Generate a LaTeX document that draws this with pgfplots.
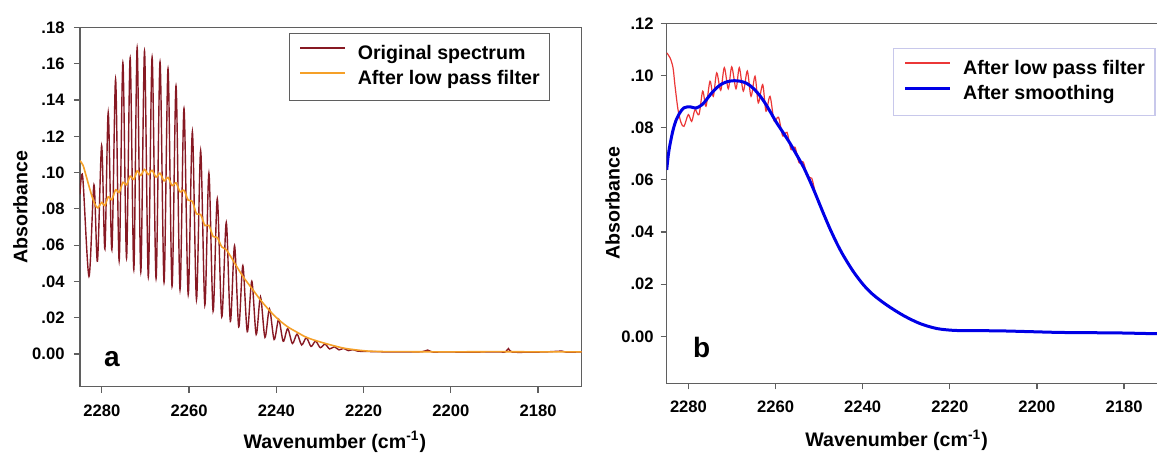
\documentclass[border=0pt]{standalone}
\usepackage{pgfplots}
\pgfplotsset{compat=1.18}
\usepackage{fontspec}
\setmainfont{Liberation Sans}
\definecolor{axisgray}{RGB}{95,95,95}
\definecolor{specred}{RGB}{135,25,35}
\definecolor{lporange}{RGB}{245,160,40}
\definecolor{lpred}{RGB}{235,55,55}
\definecolor{smblue}{RGB}{0,0,230}
\definecolor{legbgray}{RGB}{200,200,235}
\pgfplotsset{
  spec/.style={
    scale only axis,
    x dir=reverse, xmin=2170, xmax=2285, ymin=-0.018,
    axis line style={draw=axisgray, line width=0.7pt},
    every tick/.style={draw=axisgray, line width=0.6pt},
    tick align=outside, major tick length=3pt,
    xtick pos=left, ytick pos=left,
    xtick={2180,2200,2220,2240,2260,2280},
    xticklabels={2180,2200,2220,2240,2260,2280},
    /pgf/number format/assume math mode=true,
    tick label style={font=\fontsize{8.3}{10}\selectfont\bfseries},
    xticklabel style={yshift=-2.5pt},
    legend cell align=left,
    legend image code/.code={\draw[##1] (0pt,3.3pt) -- (22.3pt,3.3pt); \path (28.3pt,0pt);},
    legend style={anchor=north west, line width=0.6pt, inner xsep=5pt, inner ysep=6pt,
      font=\fontsize{9.8}{11}\selectfont\bfseries, row sep=3.5pt,
      nodes={inner sep=0pt, text height=7pt, text depth=2pt}},
  }
}
\begin{document}
\begin{tikzpicture}
\path[use as bounding box, clip] (0,0) rectangle (578.5pt,226pt);
% ---------------- panel a ----------------
\begin{axis}[spec,
  at={(40pt,32.65pt)}, anchor=south west,
  width=250.85pt, height=179.7pt, ymax=0.18,
  ytick={0,0.02,0.04,0.06,0.08,0.10,0.12,0.14,0.16,0.18},
  yticklabels={0.00,.02,.04,.06,.08,.10,.12,.14,.16,.18},
  yticklabel style={xshift=-1.2pt},
  xlabel={Wavenumber (cm\textsuperscript{-1})},
  ylabel={Absorbance},
  every axis x label/.style={at={([yshift=-30.7pt]axis description cs:0.508,0)}, anchor=base, font=\fontsize{9.8}{11}\selectfont\bfseries},
  every axis y label/.style={at={([xshift=-29.75pt]axis description cs:0,0.5)}, anchor=center, rotate=90, font=\fontsize{9.8}{11}\selectfont\bfseries},
  legend style={at={(axis description cs:0.4166,0.9841)}, draw=axisgray},
]
\addplot[specred, line width=0.7pt, smooth] coordinates {
(2285.00,0.0880) (2284.38,0.0977) (2282.94,0.0428) (2281.80,0.0932) (2281.00,0.0511)
(2280.04,0.1148) (2279.29,0.0579) (2278.53,0.1331) (2277.69,0.0575) (2276.84,0.1514)
(2276.02,0.0514) (2275.17,0.1605) (2274.33,0.0529) (2273.50,0.1631) (2272.66,0.0465)
(2271.90,0.1688) (2271.06,0.0452) (2270.21,0.1669) (2269.34,0.0425) (2268.47,0.1636)
(2267.56,0.0416) (2266.65,0.1609) (2265.73,0.0395) (2264.82,0.1572) (2263.90,0.0373)
(2262.99,0.1477) (2262.07,0.0355) (2261.16,0.1353) (2260.20,0.0328) (2259.24,0.1224)
(2258.30,0.0300) (2257.34,0.1120) (2256.38,0.0270) (2255.45,0.0996) (2254.49,0.0236)
(2253.53,0.0855) (2252.50,0.0205) (2251.47,0.0725) (2250.53,0.0181) (2249.57,0.0597)
(2248.61,0.0150) (2247.67,0.0487) (2246.65,0.0123) (2245.62,0.0401) (2244.61,0.0108)
(2243.63,0.0315) (2242.60,0.0092) (2241.57,0.0249) (2240.50,0.0080) (2239.45,0.0191)
(2238.42,0.0070) (2237.39,0.0140) (2236.31,0.0058) (2235.24,0.0110) (2234.19,0.0050)
(2233.11,0.0090) (2232.04,0.0042) (2230.99,0.0071) (2229.91,0.0035) (2228.84,0.0055)
(2227.79,0.0028) (2226.71,0.0040) (2225.64,0.0023) (2224.59,0.0031) (2223.51,0.0019)
(2222.44,0.0024) (2221.34,0.0016) (2219.0,0.0014) (2215.0,0.0012) (2210.0,0.0012)
(2206.5,0.0013) (2205.3,0.0022) (2204.2,0.0011) (2201.0,0.0012) (2197.0,0.0010)
(2193.0,0.0011) (2189.0,0.0012) (2187.5,0.0011) (2186.8,0.0030) (2186.0,0.0011)
(2182.0,0.0010) (2178.0,0.0012) (2174.5,0.0016) (2173.5,0.0010) (2170.0,0.0012)
};
\addlegendentry{Original spectrum}
\addplot[lporange, line width=0.8pt, smooth] coordinates {
(2285.00,0.1065) (2284.31,0.1040) (2283.63,0.0985) (2282.94,0.0925) (2282.26,0.0870)
(2281.57,0.0825) (2280.89,0.0805) (2280.04,0.0835) (2279.29,0.0818) (2278.53,0.0866)
(2277.69,0.0850) (2276.84,0.0905) (2276.02,0.0890) (2275.17,0.0946) (2274.33,0.0932)
(2273.50,0.0980) (2272.66,0.0962) (2271.90,0.1009) (2271.06,0.0984) (2270.21,0.1017)
(2269.34,0.0989) (2268.47,0.1012) (2267.56,0.0975) (2266.65,0.0996) (2265.73,0.0954)
(2264.82,0.0973) (2263.90,0.0928) (2262.99,0.0943) (2262.07,0.0894) (2261.16,0.0902)
(2260.20,0.0848) (2259.24,0.0841) (2258.30,0.0772) (2257.34,0.0769) (2256.38,0.0708)
(2255.45,0.0709) (2254.49,0.0648) (2253.53,0.0642) (2252.50,0.0590) (2251.47,0.0575)
(2249.57,0.0502) (2247.67,0.0428) (2245.62,0.0362) (2243.63,0.0298) (2241.57,0.0240)
(2239.45,0.0189) (2237.39,0.0150) (2235.24,0.0120) (2232.89,0.0090) (2229.00,0.0060)
(2224.43,0.0032) (2219.86,0.0018) (2216.43,0.0014) (2210.0,0.0013) (2200.0,0.0012)
(2190.0,0.0013) (2180.0,0.0012) (2170.0,0.0012)
};
\addlegendentry{After low pass filter}
\node[font=\fontsize{14}{16}\selectfont\bfseries, anchor=base] at (axis cs:2277.7,-0.0066) {a};
\end{axis}
% ---------------- panel b ----------------
\begin{axis}[spec,
  at={(333.35pt,34.35pt)}, anchor=south west,
  width=250.45pt, height=180pt, ymax=0.12,
  ytick={0,0.02,0.04,0.06,0.08,0.10,0.12},
  yticklabels={0.00,.02,.04,.06,.08,.10,.12},
  xlabel={Wavenumber (cm\textsuperscript{-1})},
  ylabel={Absorbance},
  every axis x label/.style={at={([yshift=-31.7pt]axis description cs:0.459,0)}, anchor=base, font=\fontsize{9.8}{11}\selectfont\bfseries},
  every axis y label/.style={at={([xshift=-27.1pt]axis description cs:0,0.5)}, anchor=center, rotate=90, font=\fontsize{9.8}{11}\selectfont\bfseries},
  legend style={at={(axis description cs:0.4518,0.9314)}, draw=legbgray},
]
\addplot[lpred, line width=0.6pt, smooth] coordinates {
(2285.00,0.1087) (2284.24,0.1068) (2283.55,0.1030) (2283.09,0.0960) (2282.41,0.0870)
(2281.72,0.0820) (2281.03,0.0805) (2280.04,0.0850) (2279.26,0.0824) (2278.50,0.0869)
(2277.58,0.0850) (2276.73,0.0940) (2275.98,0.0882) (2275.06,0.0978) (2274.30,0.0920)
(2273.52,0.1010) (2272.60,0.0943) (2271.77,0.1030) (2270.86,0.0949) (2270.07,0.1033)
(2269.09,0.0949) (2268.33,0.1030) (2267.41,0.0940) (2266.49,0.1017) (2265.64,0.0920)
(2264.72,0.0997) (2263.97,0.0895) (2262.96,0.0965) (2262.20,0.0863) (2261.28,0.0920)
(2260.32,0.0825) (2259.33,0.0840) (2258.36,0.0768) (2257.38,0.0782) (2256.46,0.0716)
(2255.54,0.0725) (2254.62,0.0666) (2253.63,0.0668) (2252.67,0.0612) (2251.70,0.0606)
(2250.76,0.0545) (2249.04,0.0472) (2247.50,0.0412) (2245.89,0.0355) (2244.45,0.0310)
(2242.22,0.0250) (2239.86,0.0198) (2237.63,0.0160) (2234.48,0.0120) (2230.67,0.0080)
(2226.84,0.0049) (2223.00,0.0030) (2219.19,0.0023) (2215.36,0.0022) (2208.47,0.0021)
(2201.58,0.0018) (2194.69,0.0015) (2187.81,0.0014) (2180.92,0.0013) (2172.42,0.0010)
(2170.00,0.0010)
};
\addlegendentry{After low pass filter}
\addplot[smblue, line width=1.5pt, smooth] coordinates {
(2285.00,0.0638) (2284.59,0.0700) (2284.13,0.0745) (2283.55,0.0790) (2282.86,0.0828)
(2281.94,0.0858) (2281.03,0.0876) (2279.65,0.0880) (2278.27,0.0875) (2276.89,0.0888)
(2275.98,0.0905) (2274.83,0.0930) (2273.52,0.0953) (2272.30,0.0968) (2270.92,0.0977)
(2269.54,0.0980) (2268.16,0.0978) (2266.78,0.0971) (2265.40,0.0955) (2264.02,0.0931)
(2262.64,0.0900) (2261.26,0.0862) (2259.88,0.0822) (2258.23,0.0780) (2256.69,0.0740)
(2255.31,0.0700) (2253.63,0.0650) (2252.32,0.0603) (2250.95,0.0550) (2249.04,0.0472)
(2247.50,0.0412) (2245.89,0.0355) (2244.45,0.0310) (2242.22,0.0250) (2239.86,0.0198)
(2237.63,0.0160) (2234.48,0.0120) (2230.67,0.0080) (2226.84,0.0049) (2223.00,0.0030)
(2219.19,0.0023) (2215.36,0.0022) (2208.47,0.0021) (2201.58,0.0018) (2194.69,0.0015)
(2187.81,0.0014) (2180.92,0.0013) (2172.42,0.0010) (2170.00,0.0010)
};
\addlegendentry{After smoothing}
\node[font=\fontsize{14}{16}\selectfont\bfseries, anchor=base] at (axis cs:2276.96,-0.008) {b};
\end{axis}
\end{tikzpicture}
\end{document}
